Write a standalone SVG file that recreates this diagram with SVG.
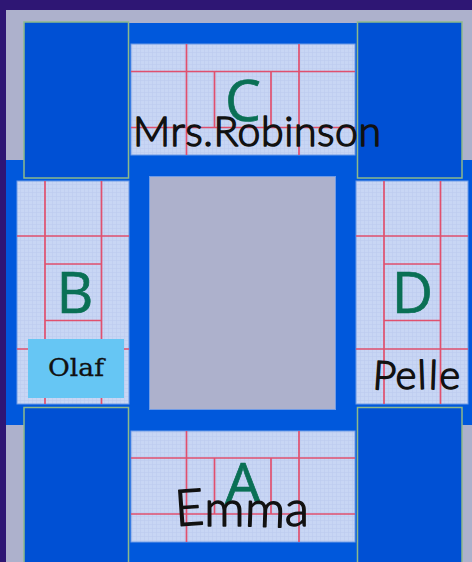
<svg xmlns="http://www.w3.org/2000/svg" width="472" height="562" viewBox="0 0 472 562">
<style>
.panel{stroke:#6f9be6;stroke-width:1}
.grid{stroke:#e0506e;stroke-width:1.7;fill:none}
.corner{fill:#0050d4;stroke:#8db98a;stroke-width:1.5}
.letter{font-family:"Open Sans","Noto Sans",sans-serif;font-size:57px;fill:#0a7055;stroke:#0a7055;stroke-width:.7;text-anchor:middle}
.hand{font-family:"Lato","Noto Sans",sans-serif;font-weight:300;fill:#111;stroke:#111;stroke-width:1.5;stroke-linejoin:round}
</style>
<defs>
<pattern id="mesh" width="4" height="4" patternUnits="userSpaceOnUse">
<rect width="4" height="4" fill="#c8d6f4"/>
<path d="M0 .5H4M.5 0V4" stroke="#bccbef" stroke-width=".6"/>
</pattern>
</defs>
<rect id="background" width="472" height="562" fill="#2e1674"/>
<rect id="ground" x="6" y="10" width="466" height="552" fill="#adb1cc"/>
<g id="road">
<rect x="129" y="23" width="228" height="539" fill="#0058dc"/>
<rect x="6" y="160" width="466" height="265" fill="#0058dc"/>
</g>
<rect id="center" x="149.500" y="176.500" width="186" height="233" fill="#adb1cc" stroke="#6f9be6"/>
<g id="node-c">
<rect class="panel" x="131" y="44" width="224" height="111" fill="url(#mesh)"/>
<path class="grid" d="M186.500 44V155M299 44V155M131 71.500H355M131 127.500H355M214.500 71.500V127.500M271 71.500V127.500"/>
<text class="letter" x="243" y="121">C</text>
</g>
<g id="node-b">
<rect class="panel" x="17" y="181" width="112" height="223" fill="url(#mesh)"/>
<path class="grid" d="M45 181V404M101.500 181V404M17 236H129M17 349H129M45 264H101.500M45 320.500H101.500"/>
<text class="letter" x="75" y="313">B</text>
</g>
<g id="node-d">
<rect class="panel" x="356" y="181" width="112" height="223" fill="url(#mesh)"/>
<path class="grid" d="M384 181V404M440.500 181V404M356 236H468M356 349H468M384 264H440.500M384 320.500H440.500"/>
<text class="letter" x="412.500" y="313">D</text>
</g>
<g id="node-a">
<rect class="panel" x="131" y="431" width="224" height="111" fill="url(#mesh)"/>
<path class="grid" d="M186.500 431V542M299 431V542M131 458H355M131 514H355M214.500 458V514M271 458V514"/>
<text class="letter" x="243" y="504">A</text>
</g>
<g id="corners">
<rect class="corner" x="24" y="22" width="104.500" height="156"/>
<rect class="corner" x="357.500" y="22" width="104.500" height="156"/>
<rect class="corner" x="24" y="407.500" width="104.500" height="170"/>
<rect class="corner" x="357.500" y="407.500" width="104.500" height="170"/>
</g>
<g id="label-olaf">
<rect x="28" y="339" width="96" height="59" fill="#66c6f4"/>
<text x="76" y="376" font-family="'DejaVu Serif','Liberation Serif',serif" font-size="24" fill="#111" stroke="#111" stroke-width=".3" text-anchor="middle" textLength="56" lengthAdjust="spacingAndGlyphs">Olaf</text>
</g>
<text id="label-robinson" class="hand" x="133" y="146" font-size="41" textLength="248" lengthAdjust="spacing">Mrs.Robinson</text>
<text id="label-pelle" class="hand" x="372" y="389" font-size="40" textLength="88" lengthAdjust="spacing" rotate="4 0 -2 2 0">Pelle</text>
<text id="label-emma" class="hand" x="176" y="526" font-size="50" textLength="133" lengthAdjust="spacingAndGlyphs" rotate="-4 0 2 0">Emma</text>
</svg>
